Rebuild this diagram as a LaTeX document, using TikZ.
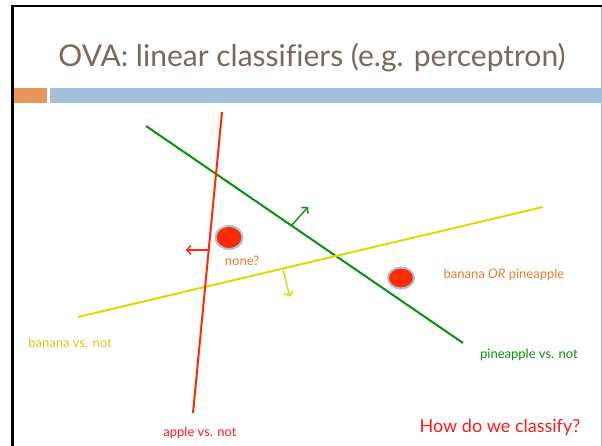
\documentclass[tikz,border=0pt]{standalone}
\usepackage{fontspec}
\setmainfont{Lato}[Ligatures=NoCommon]
\usetikzlibrary{arrows.meta}
\definecolor{titlec}{HTML}{7A685F}
\definecolor{barorange}{HTML}{E8965A}
\definecolor{barblue}{HTML}{A3C1DA}
\definecolor{redc}{HTML}{FF2A00}
\definecolor{greenc}{HTML}{0A900A}
\definecolor{yellowc}{HTML}{DCDA00}
\definecolor{yellowtext}{HTML}{D2CC10}
\definecolor{orangetext}{HTML}{F07A30}
\definecolor{redtext}{HTML}{FF1A1A}
\definecolor{dotedge}{HTML}{A8C0D8}
\tikzset{
  sepline/.style={line width=2pt},
  normarrow/.style={line width=1.4pt,-{Straight Barb[length=4pt,width=9pt]}},
  dotshape/.style={fill=redc,draw=dotedge,line width=1.6pt},
  lbl/.style={inner sep=0pt,font=\fontsize{13}{15}\selectfont},
}
\begin{document}
\begin{tikzpicture}[x=1pt,y=-1pt]
\useasboundingbox (0,0) rectangle (602,446);
\fill[white] (0,0) rectangle (602,446);
% frame
\fill[black] (11,5) rectangle (602,7.5);
\fill[black] (11,5) rectangle (14,446);
\draw[gray!60,line width=0.8pt] (601,7.5) -- (601,446);
% title bars
\fill[barorange] (14,88) rectangle (47,103);
\fill[barblue] (50,88) rectangle (602,103);
% title
\node[titlec,inner sep=0pt,font=\fontsize{30}{34}\selectfont] (title) at (312,58) {OVA: linear classifiers (e.g. perceptron)};
% lines
\coordinate (r1) at (222,112);
\coordinate (r2) at (193,413);
\coordinate (g1) at (146,126);
\coordinate (g2) at (463,343);
\coordinate (y1) at (78,317);
\coordinate (y2) at (543,207);
\draw[sepline,greenc] (g1) -- (g2);
\draw[sepline,yellowc] (y1) -- (y2);
\draw[sepline,redc] (r1) -- (r2);
% normal arrows
\coordinate (ra) at (209,250);
\coordinate (rb) at (186,250);
\coordinate (ga) at (292,225);
\coordinate (gb) at (308,207);
\coordinate (ya) at (283,270);
\coordinate (yb) at (290,297);
\draw[normarrow,redc] (ra) -- (rb);
\draw[normarrow,greenc] (ga) -- (gb);
\draw[normarrow,yellowc] (ya) -- (yb);
% dots
\fill[dotshape] (229,237.5) ellipse [x radius=13.5, y radius=11.5];
\fill[dotshape] (401,278) ellipse [x radius=13, y radius=10.5];
\draw[dotedge,line width=1.8pt] (229,237.5) ellipse [x radius=13.5, y radius=11.5];
\draw[dotedge,line width=1.8pt] (401,278) ellipse [x radius=13, y radius=10.5];
% labels
\node[lbl,orangetext] (none) at (242,261) {none?};
\node[lbl,orangetext] (bop) at (504,275) {banana \textit{OR} pineapple};
\node[lbl,yellowtext] (ban) at (70,343) {banana vs. not};
\node[lbl,greenc] (pin) at (529,355) {pineapple vs. not};
\node[lbl,redtext] (app) at (200,433) {apple vs. not};
\node[inner sep=0pt,redtext,font=\fontsize{18}{20}\selectfont] (how) at (500,427) {How do we classify?};
\end{tikzpicture}
\end{document}
